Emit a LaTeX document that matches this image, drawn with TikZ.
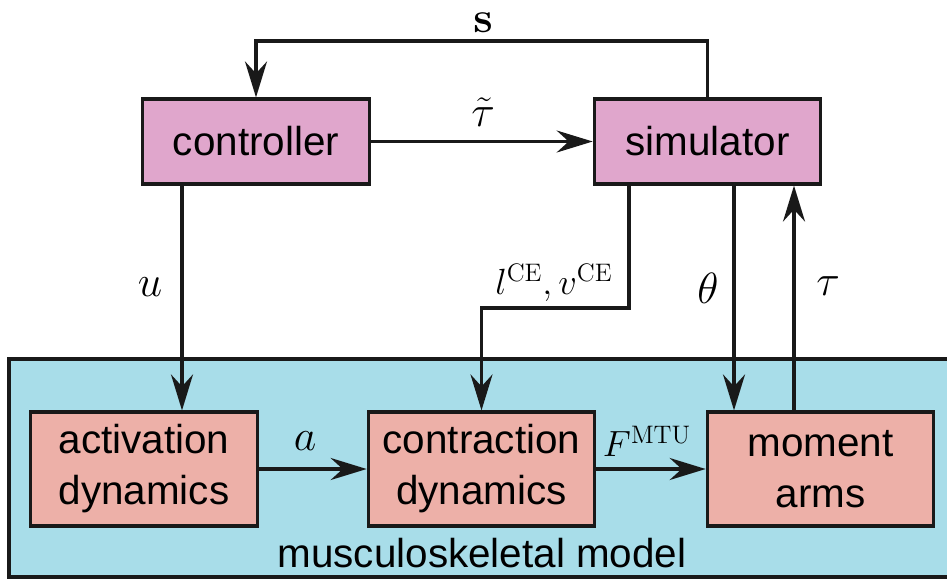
\documentclass[tikz,border=0pt]{standalone}
\usepackage[no-math]{fontspec}
\setmainfont{Liberation Sans}
\usetikzlibrary{arrows.meta}
\definecolor{ctrlpink}{RGB}{224,166,204}
\definecolor{musclered}{RGB}{237,176,168}
\definecolor{modelblue}{RGB}{168,221,233}
\begin{document}
\begin{tikzpicture}[line width=1.8pt,
topblock/.style ={rectangle, draw=black!90, fill=ctrlpink,
  minimum width=4.53cm, minimum height=1.7cm, inner sep=0pt,
  font=\fontsize{23}{29}\selectfont
},
musblock/.style ={rectangle, draw=black!90, fill=musclered,
  minimum width=4.53cm, minimum height=2.28cm, inner sep=0pt,
  align=center, font=\fontsize{23}{29}\selectfont
},
lbl/.style ={font=\fontsize{27}{32}\selectfont, inner sep=1pt},
arr/.style ={draw=black!90, -{Stealth[length=0.72cm, width=0.44cm, inset=0.24cm]}}
]
\useasboundingbox (0,0) rectangle (18.94,11.62);
\clip (0,0) rectangle (18.94,11.62);
% musculoskeletal model
\draw[draw=black!90, fill=modelblue] (0.18,0.08) rectangle (19.4,4.44);
\node (mlbl) at (9.64,0.55) [font=\fontsize{23}{29}\selectfont] {musculoskeletal model};
\node (ctrl) at (5.12,8.79) [topblock] {controller};
\node (sim) at (14.15,8.79) [topblock] {simulator};
\node (act) at (2.88,2.24) [musblock] {activation\\dynamics};
\node (con) at (9.63,2.24) [musblock] {contraction\\dynamics};
\node (arm) at (16.41,2.24) [musblock] {moment\\arms};
% feedback
\coordinate (fb) at (9.66,10.8);
\coordinate (bend) at (11,5.46);
\draw[arr] (sim.north) |- (fb) -| (ctrl.north);
\draw[arr] (ctrl) -- (sim);
\draw[arr] ([xshift=-1.48cm]ctrl.south) -- ([xshift=-1.48cm]ctrl.south |- act.north);
\draw[arr] ([xshift=-1.57cm]sim.south) |- (bend) -| (con.north);
\draw[arr] ([xshift=0.53cm]sim.south) -- ([xshift=0.53cm]sim.south |- arm.north);
\draw[arr] ([xshift=-0.53cm]arm.north) -- ([xshift=-0.53cm]arm.north |- sim.south);
\draw[arr] (act) -- (con);
\draw[arr] (con) -- (arm);
% labels
\node (slbl) at (9.66,11.16) [lbl] {$\mathbf{s}$};
\node (tlbl) at (9.66,9.38) [lbl] {$\tilde{\tau}$};
\node (ulbl) at (3.0,5.88) [lbl] {$u$};
\node (llbl) at (11.08,5.96) [lbl, font=\fontsize{20}{24}\selectfont] {$l^{\mathrm{CE}}, v^{\mathrm{CE}}$};
\node (thlbl) at (14.16,5.86) [lbl] {$\theta$};
\node (taulbl) at (16.56,5.9) [lbl] {$\tau$};
\node (albl) at (6.1,2.8) [lbl] {$a$};
\node (flbl) at (12.94,2.8) [lbl, font=\fontsize{20}{24}\selectfont] {$F^{\mathrm{MTU}}$};
\end{tikzpicture}
\end{document}
